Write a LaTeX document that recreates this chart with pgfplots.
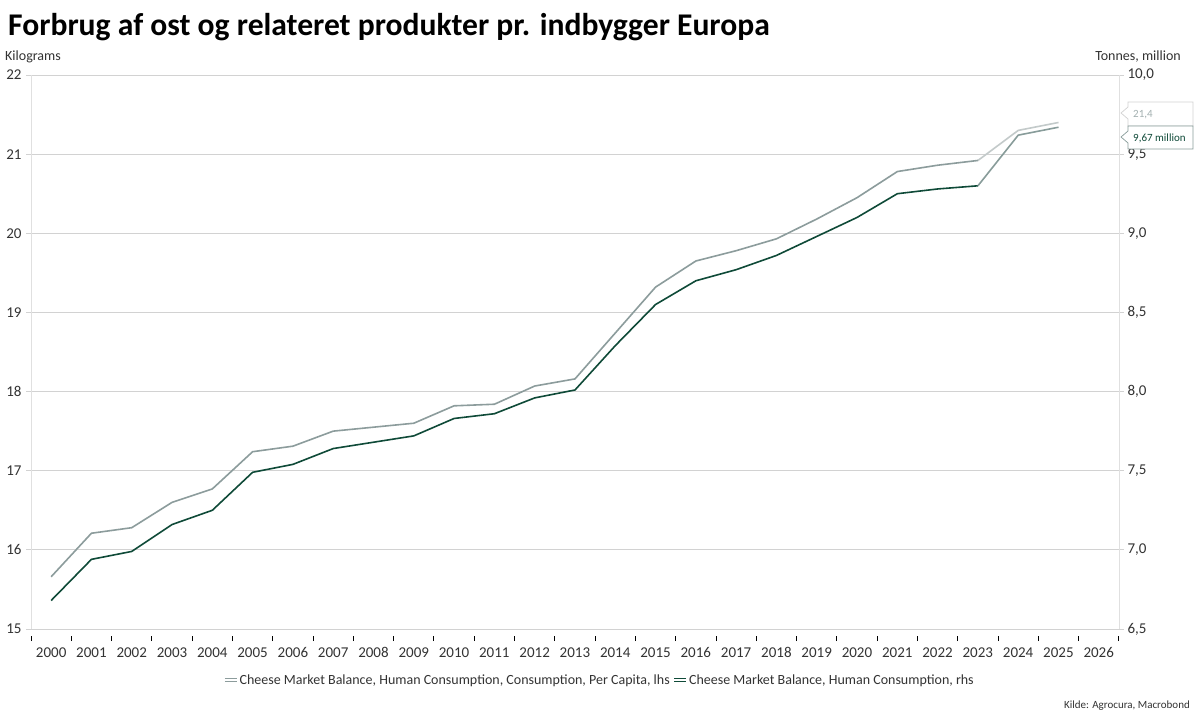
\documentclass[border=0pt]{standalone}
\usepackage{pgfplots}
\pgfplotsset{compat=1.18}
\usepackage{pgfplotstable}
\usepackage{fontspec}
\setmainfont{Carlito}

\definecolor{lhsgray}{HTML}{8C9C9C}
\definecolor{lhsfc}{HTML}{C3CACA}
\definecolor{rhsgreen}{HTML}{0F4A38}
\definecolor{rhsfc}{HTML}{889C9A}
\definecolor{gridc}{HTML}{D2D2D2}
\definecolor{axc}{HTML}{E0E0E0}
\definecolor{txt}{HTML}{333333}

% per capita, kg (lhs)
\pgfplotstableread{
year val
2000.5 15.66
2001.5 16.21
2002.5 16.28
2003.5 16.60
2004.5 16.77
2005.5 17.24
2006.5 17.31
2007.5 17.50
2008.5 17.55
2009.5 17.60
2010.5 17.82
2011.5 17.84
2012.5 18.07
2013.5 18.16
2014.5 18.74
2015.5 19.32
2016.5 19.65
2017.5 19.78
2018.5 19.93
2019.5 20.18
2020.5 20.45
2021.5 20.78
2022.5 20.86
2023.5 20.92
}\lhsdata
\pgfplotstableread{
year val
2023.5 20.92
2024.5 21.30
2025.5 21.40
}\lhsfcdata

% total, million tonnes (rhs)
\pgfplotstableread{
year val
2000.5 6.68
2001.5 6.94
2002.5 6.99
2003.5 7.16
2004.5 7.25
2005.5 7.49
2006.5 7.54
2007.5 7.64
2008.5 7.68
2009.5 7.72
2010.5 7.83
2011.5 7.86
2012.5 7.96
2013.5 8.01
2014.5 8.29
2015.5 8.55
2016.5 8.70
2017.5 8.77
2018.5 8.86
2019.5 8.98
2020.5 9.10
2021.5 9.25
2022.5 9.28
2023.5 9.30
}\rhsdata
\pgfplotstableread{
year val
2023.5 9.30
2024.5 9.62
2025.5 9.67
}\rhsfcdata

\pgfplotsset{
  base/.style={
    scale only axis,
    width=1088pt, height=554pt,
    at={(31pt,91pt)}, anchor=south west,
    xmin=2000, xmax=2027,
    /pgf/number format/assume math mode=true,
    major tick length=5pt,
    tick label style={font=\fontsize{15}{15}\selectfont, text=txt},
    clip=false,
  },
  dbl/.style={
    legend image code/.code={
      \draw[#1] (0pt,1.6pt) -- (12pt,1.6pt);
      \draw[#1] (0pt,-1.6pt) -- (12pt,-1.6pt);
    }
  },
}

\begin{document}
\begin{tikzpicture}
\path[use as bounding box, fill=white] (0,0) rectangle (1199pt,720pt);

\begin{axis}[base,
  axis x line*=bottom, axis y line*=left,
  x axis line style={draw=none},
  y axis line style={axc, line width=0.8pt},
  ymin=15, ymax=22, ytick={15,...,22},
  ymajorgrids, grid style={gridc, line width=0.8pt},
  ytick style={gridc, line width=0.8pt},
  ytick align=outside,
  xtick={2000,...,2027},
  xtick align=outside,
  xtick style={black, line width=0.9pt, yshift=-7pt},
  x tick label as interval,
  xticklabel style={/pgf/number format/1000 sep={}, yshift=-10pt},
  yticklabel style={xshift=-1pt},
  legend columns=2,
  legend style={at={(0.523,-0.092)}, anchor=center, draw=none, fill=none,
    font=\fontsize{14}{14}\selectfont, text=txt,
    /tikz/every even column/.append style={column sep=2pt}},
  legend cell align=left,
]
\addplot[lhsgray, line width=1.6pt, forget plot] table[x=year, y=val] {\lhsdata};
\addplot[lhsfc, line width=1.6pt, forget plot] table[x=year, y=val] {\lhsfcdata};
\addlegendimage{dbl, lhsgray, line width=1.3pt}
\addlegendentry{Cheese Market Balance, Human Consumption, Consumption, Per Capita, lhs}
\addlegendimage{dbl, rhsgreen, line width=1.3pt}
\addlegendentry{Cheese Market Balance, Human Consumption, rhs}
\end{axis}

\begin{axis}[base,
  axis x line=none, axis y line*=right,
  y axis line style={axc, line width=0.8pt},
  ymin=6.5, ymax=10, ytick={6.5,7,7.5,8,8.5,9,9.5,10},
  ytick style={gridc, line width=0.8pt},
  ytick align=outside,
  yticklabel style={/pgf/number format/.cd, fixed, fixed zerofill, precision=1, use comma},
]
\addplot[rhsgreen, line width=1.6pt] table[x=year, y=val] {\rhsdata};
\addplot[rhsfc, line width=1.6pt] table[x=year, y=val] {\rhsfcdata};
\end{axis}

% header texts
\node[anchor=base west, inner sep=0pt, font=\fontsize{31.6}{31.6}\selectfont\bfseries]
  at (8pt,684pt) {Forbrug af ost og relateret produkter pr. indbygger Europa};
\node[anchor=base west, inner sep=0pt, font=\fontsize{14}{14}\selectfont, text=txt]
  at (5pt,659pt) {Kilograms};
\node[anchor=base east, inner sep=0pt, font=\fontsize{14}{14}\selectfont, text=txt]
  at (1181pt,659pt) {Tonnes, million};
\node[anchor=base east, inner sep=0pt, font=\fontsize{11}{11}\selectfont, text=txt]
  at (1190pt,12pt) {Kilde: Agrocura, Macrobond};

% end-value callouts
\draw[gridc, fill=white, line width=0.7pt]
  (1128pt,594pt) -- (1128pt,601pt) -- (1121pt,607pt) -- (1128pt,613pt)
  -- (1128pt,618pt) -- (1193pt,618pt) -- (1193pt,594pt) -- cycle;
\node[anchor=base west, inner sep=0pt, font=\fontsize{11}{11}\selectfont, text=lhsgray!80]
  at (1133pt,602pt) {21,4};
\draw[rhsfc, fill=white, line width=0.7pt]
  (1128pt,571pt) -- (1128pt,577pt) -- (1121pt,583pt) -- (1128pt,589pt)
  -- (1128pt,594pt) -- (1193pt,594pt) -- (1193pt,571pt) -- cycle;
\node[anchor=base west, inner sep=0pt, font=\fontsize{11}{11}\selectfont, text=rhsgreen]
  at (1133pt,578pt) {9,67 million};
\end{tikzpicture}
\end{document}
